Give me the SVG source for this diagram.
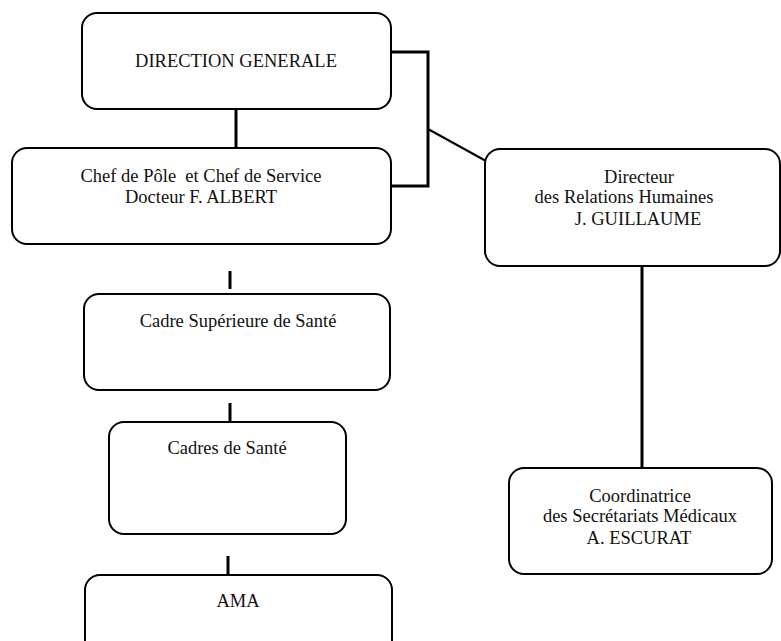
<svg xmlns="http://www.w3.org/2000/svg" width="781" height="641" viewBox="0 0 781 641">
<style>
.box{fill:#fff;stroke:#000;stroke-width:2}
.t{font-family:"Liberation Serif","Times New Roman",serif;font-size:18.5px;fill:#111;text-anchor:middle}
.c{stroke:#000;stroke-width:3;fill:none}
.d{stroke:#000;stroke-width:2;fill:none}
</style>
<rect width="781" height="641" fill="#fff"/>
<g id="connectors">
<line class="c" x1="236" y1="109" x2="236" y2="148"/>
<polyline class="c" points="391,52 428,52 428,186 391,186"/>
<line class="d" x1="428" y1="129" x2="486" y2="161"/>
<line class="c" x1="642" y1="266" x2="642" y2="468"/>
<line class="c" x1="230" y1="271" x2="230" y2="289"/>
<line class="c" x1="230" y1="403" x2="230" y2="422"/>
<line class="c" x1="228" y1="556" x2="228" y2="575"/>
</g>
<g id="direction-generale">
<rect class="box" x="82" y="13" width="309" height="96" rx="15"/>
<text class="t" x="236" y="67">DIRECTION GENERALE</text>
</g>
<g id="chef-de-pole">
<rect class="box" x="12" y="148" width="379" height="96" rx="15"/>
<text class="t" x="201" y="182" xml:space="preserve">Chef de Pôle  et Chef de Service</text>
<text class="t" x="201" y="203">Docteur F. ALBERT</text>
</g>
<g id="directeur-rh">
<rect class="box" x="485" y="149" width="295" height="117" rx="15"/>
<text class="t" x="639" y="183">Directeur</text>
<text class="t" x="624" y="203">des Relations Humaines</text>
<text class="t" x="638" y="225">J. GUILLAUME</text>
</g>
<g id="cadre-superieure">
<rect class="box" x="84" y="294" width="306" height="96" rx="15"/>
<text class="t" x="238" y="327">Cadre Supérieure de Santé</text>
</g>
<g id="cadres-de-sante">
<rect class="box" x="109" y="422" width="237" height="112" rx="15"/>
<text class="t" x="227" y="454">Cadres de Santé</text>
</g>
<g id="ama">
<rect class="box" x="85" y="575" width="307" height="90" rx="15"/>
<text class="t" x="238" y="607">AMA</text>
</g>
<g id="coordinatrice">
<rect class="box" x="509" y="468" width="263" height="106" rx="15"/>
<text class="t" x="640" y="502">Coordinatrice</text>
<text class="t" x="640" y="522">des Secrétariats Médicaux</text>
<text class="t" x="639" y="544">A. ESCURAT</text>
</g>
</svg>
